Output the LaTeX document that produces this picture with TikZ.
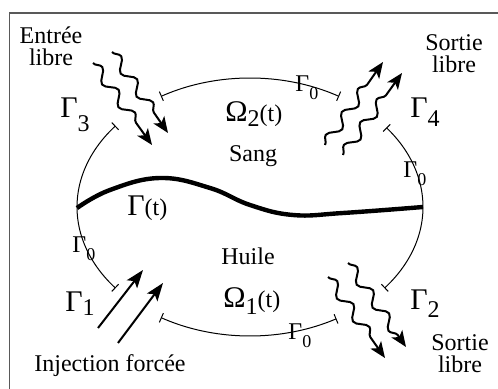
\documentclass[tikz,border=0pt]{standalone}
\usepackage{fontspec}
\setmainfont{Liberation Serif}
\usetikzlibrary{arrows.meta,decorations.pathmorphing}

\newcommand{\grk}[1]{{\fontsize{15}{15}\selectfont #1}}
\newcommand{\grkzero}{{\fontsize{12}{12}\selectfont Γ}\raisebox{-4pt}{\fontsize{9}{9}\selectfont 0}}

\begin{document}
\begin{tikzpicture}[x=0.5pt,y=-0.5pt,
    bord/.style={line width=0.5pt, {Bar[width=5pt]}-{Bar[width=5pt]}},
    wave/.style={line width=1pt, -{Stealth[length=8pt,width=6.5pt,inset=2pt]}, decorate,
      decoration={snake, amplitude=2.6pt, segment length=14pt, post length=7pt}},
    inject/.style={line width=1pt, -{Stealth[length=9pt,width=6.5pt,inset=2pt]}},
    lbl/.style={inner sep=0pt, font=\fontsize{12}{11}\selectfont}]

    % Cadre
    \useasboundingbox (0,0) rectangle (498,389);
    \draw[black!65, line width=0.6pt] (9.5,13) rectangle (530,430);

    % Bord du domaine, Gamma_0
    \draw[bord] plot[domain=-121:-59, samples=40] ({250+173*cos(\x)},{207+129*sin(\x)});
    \draw[bord] plot[domain=-38:39, samples=50] ({250+173*cos(\x)},{207+129*sin(\x)});
    \draw[bord] plot[domain=60:121, samples=40] ({250+173*cos(\x)},{207+129*sin(\x)});
    \draw[bord] plot[domain=141:219, samples=50] ({250+173*cos(\x)},{207+129*sin(\x)});

    % Interface Gamma(t)
    \draw[line width=2.2pt] plot[smooth, tension=0.7] coordinates {(77,208) (110,190) (160,178) (210,188) (250,205) (293,215) (343,213) (423,207)};

    % Entree libre
    \coordinate (e1a) at (93,63);   \coordinate (e1b) at (152,145);
    \coordinate (e2a) at (112,52);  \coordinate (e2b) at (168,133);
    \draw[wave] (e1a) -- (e1b);
    \draw[wave] (e2a) -- (e2b);

    % Sortie libre (haut)
    \coordinate (s1a) at (325,145); \coordinate (s1b) at (383,62);
    \coordinate (s2a) at (343,155); \coordinate (s2b) at (402,73);
    \draw[wave] (s1a) -- (s1b);
    \draw[wave] (s2a) -- (s2b);

    % Sortie libre (bas)
    \coordinate (t1a) at (328,277); \coordinate (t1b) at (385,358);
    \coordinate (t2a) at (348,263); \coordinate (t2b) at (406,347);
    \draw[wave] (t1a) -- (t1b);
    \draw[wave] (t2a) -- (t2b);

    % Injection forcee
    \coordinate (i1a) at (98,328);  \coordinate (i1b) at (143,270);
    \coordinate (i2a) at (118,343); \coordinate (i2b) at (163,283);
    \draw[inject] (i1a) -- (i1b);
    \draw[inject] (i2a) -- (i2b);

    % Textes
    \node[lbl, align=center] (entree) at (51,46.5) {Entrée\\libre};
    \node[lbl, align=center] (sortieh) at (454,53.5) {Sortie\\libre};
    \node[lbl, align=center] (sortieb) at (460,353.5) {Sortie\\libre};
    \node[lbl, anchor=base] (inject) at (110,372) {Injection forcée};
    \node[lbl, anchor=base] (sang) at (253,162) {Sang};
    \node[lbl, anchor=base] (huile) at (248,265) {Huile};

    % Omega, Gamma
    \node[lbl, anchor=base west] (om2) at (225,122) {\grk{Ω}\raisebox{-2.5pt}{2}(t)};
    \node[lbl, anchor=base west] (om1) at (223,308) {\grk{Ω}\raisebox{-3.5pt}{1}(t)};
    \node[lbl, anchor=base west] (gt) at (127,216) {\grk{Γ}(t)};
    \node[lbl, anchor=base west] (g3) at (60,118) {\grk{Γ}\raisebox{-7pt}{3}};
    \node[lbl, anchor=base west] (g4) at (410,118) {\grk{Γ}\raisebox{-4.5pt}{4}};
    \node[lbl, anchor=base west] (g1) at (65,312) {\grk{Γ}\raisebox{-2pt}{1}};
    \node[lbl, anchor=base west] (g2) at (410,310) {\grk{Γ}\raisebox{-4pt}{2}};
    \node[lbl, anchor=base west] (g0h) at (295,92) {\grkzero};
    \node[lbl, anchor=base west] (g0d) at (403,178) {\grkzero};
    \node[lbl, anchor=base west] (g0g) at (72,253) {\grkzero};
    \node[lbl, anchor=base west] (g0b) at (288,340) {\grkzero};

\end{tikzpicture}
\end{document}
